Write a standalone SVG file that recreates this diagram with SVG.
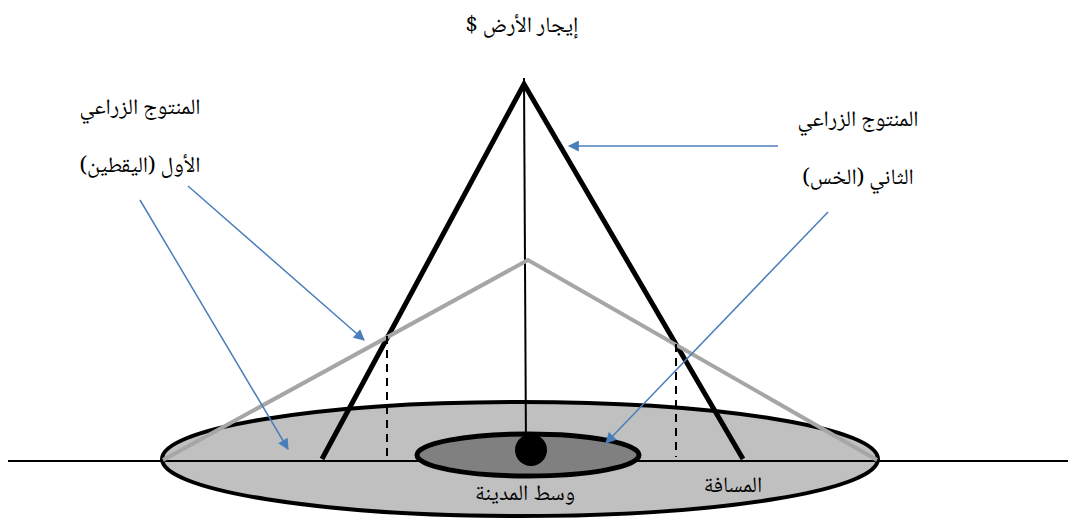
<svg xmlns="http://www.w3.org/2000/svg" width="1068" height="520" viewBox="0 0 1068 520">
<defs>
<marker id="ah" viewBox="0 0 10 10" refX="9" refY="5" markerWidth="13" markerHeight="11" markerUnits="userSpaceOnUse" orient="auto">
<path d="M0,0 L10,5 L0,10 z" fill="#4a7ebb"/>
</marker>
<style>
.lbl{font-family:"Noto Naskh Arabic","DejaVu Serif","DejaVu Sans",serif;font-size:22px;fill:#000;text-anchor:middle}
.blue{stroke:#4a7ebb;stroke-width:1.5;fill:none;marker-end:url(#ah)}
</style>
</defs>
<rect width="1068" height="520" fill="#fff"/>
<g id="outer-zone">
<ellipse cx="520" cy="459" rx="358" ry="57" fill="#c0c0c0" stroke="#000" stroke-width="4"/>
</g>
<g id="axis">
<line x1="8" y1="461" x2="1068" y2="461" stroke="#000" stroke-width="2"/>
</g>
<g id="inner-zone">
<ellipse cx="528" cy="455" rx="111" ry="21" fill="#808080" stroke="#000" stroke-width="5"/>
</g>
<g id="rent-axis">
<line x1="524" y1="78" x2="526" y2="450" stroke="#000" stroke-width="2"/>
</g>
<g id="center-dot">
<circle cx="531" cy="450" r="16" fill="#000"/>
</g>
<g id="curve-lettuce">
<polyline points="322,459 524,84 743,459" fill="none" stroke="#000" stroke-width="5"/>
</g>
<g id="curve-pumpkin">
<polyline points="163,460 528,260 877,460" fill="none" stroke="#a6a6a6" stroke-width="4"/>
</g>
<g id="dashes">
<line x1="387" y1="336" x2="387" y2="457" stroke="#000" stroke-width="2" stroke-dasharray="8,6"/>
<line x1="676" y1="344" x2="676" y2="457" stroke="#000" stroke-width="2" stroke-dasharray="8,6"/>
</g>
<g id="connectors">
<line class="blue" x1="778" y1="146" x2="569" y2="146"/>
<line class="blue" x1="188" y1="186" x2="364" y2="340"/>
<line class="blue" x1="140" y1="200" x2="288" y2="449"/>
<line class="blue" x1="828" y1="212" x2="606" y2="443"/>
</g>
<g id="labels">
<text class="lbl" x="522" y="32" direction="rtl">إيجار الأرض $</text>
<text class="lbl" x="140" y="114" direction="rtl">المنتوج الزراعي</text>
<text class="lbl" x="140" y="172" direction="rtl">الأول (اليقطين)</text>
<text class="lbl" x="858" y="126" direction="rtl">المنتوج الزراعي</text>
<text class="lbl" x="858" y="184" direction="rtl">الثاني (الخس)</text>
<text class="lbl" x="525" y="500" direction="rtl">وسط المدينة</text>
<text class="lbl" x="733" y="492" direction="rtl">المسافة</text>
</g>
</svg>
